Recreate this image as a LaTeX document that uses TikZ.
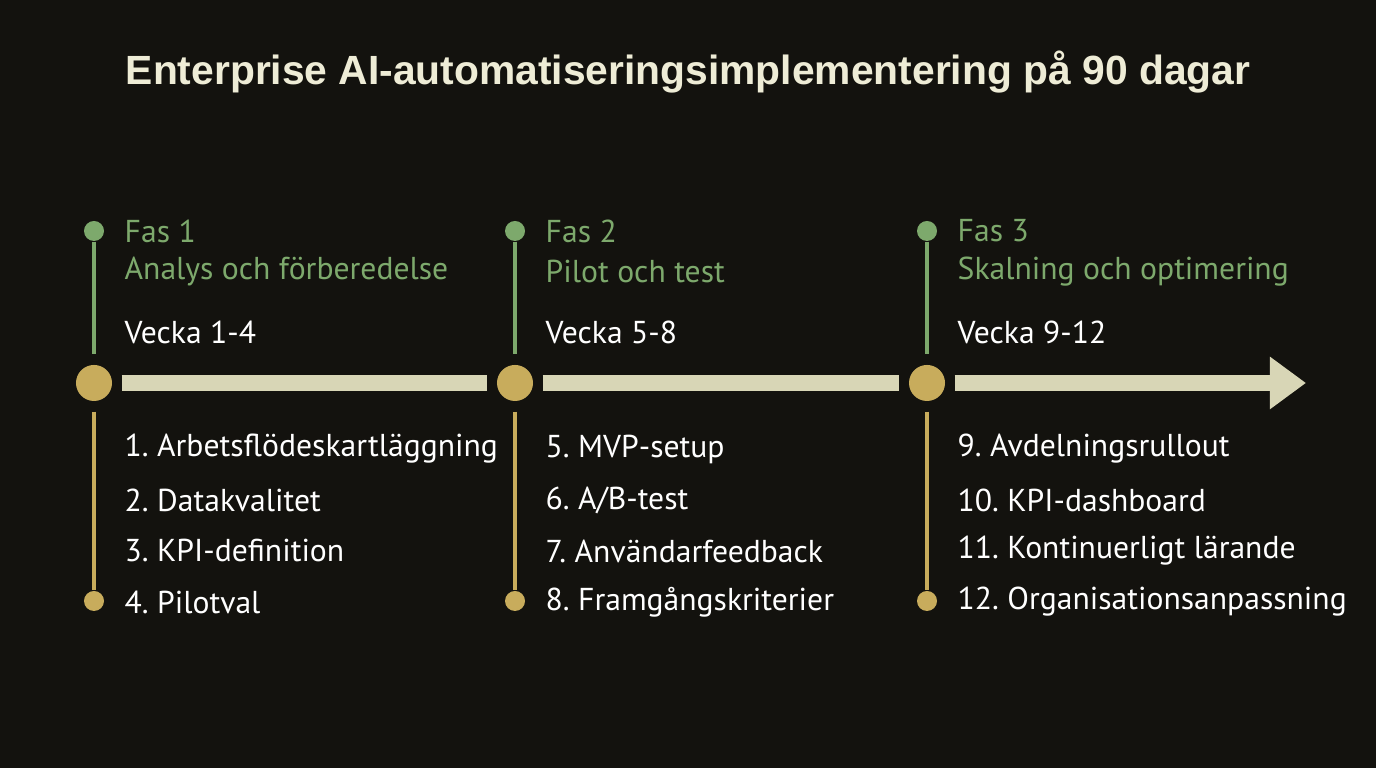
\documentclass[tikz,border=0pt]{standalone}
\usepackage{fontspec}
\setmainfont{Liberation Sans}
\newfontfamily\lblfont{PT Sans}
\usetikzlibrary{arrows.meta,positioning}
\definecolor{bgdark}{HTML}{13120E}
\definecolor{cream}{HTML}{EEECD6}
\definecolor{barcol}{HTML}{D8D6B6}
\definecolor{fasgreen}{HTML}{7DA96C}
\definecolor{fasgold}{HTML}{C8AC5C}
\tikzset{
  bigdot/.style={circle,fill=fasgold,minimum size=0.36cm,inner sep=0pt},
  smalldot/.style={circle,minimum size=0.2cm,inner sep=0pt},
  lbl/.style={anchor=west,inner sep=0pt,font=\lblfont\fontsize{9pt}{10pt}\selectfont},
  bar/.style={barcol,line width=0.16cm}
}
\begin{document}
\frenchspacing
\begin{tikzpicture}[x=0.01cm,y=0.01cm]
\fill[bgdark] (0,0) rectangle (1376,768);
\useasboundingbox (0,0) rectangle (1376,768);

% Title
\node[text=cream,font=\bfseries\fontsize{11.6pt}{14pt}\selectfont] (title) at (688,696)
  {Enterprise AI-automatiseringsimplementering på 90 dagar};

% Phases
\foreach \i/\x/\fas/\name/\wk in {1/94/Fas 1/Analys och förberedelse/Vecka 1-4,
                                   2/515/Fas 2/Pilot och test/Vecka 5-8,
                                   3/927/Fas 3/Skalning och optimering/Vecka 9-12}{
  \node[bigdot] (p\i) at (\x,385) {};
  \node[smalldot,fill=fasgreen] (t\i) at (\x,537) {};
  \node[smalldot,fill=fasgold] (b\i) at (\x,167) {};
  \draw[fasgreen,line width=0.035cm,shorten >=0.1cm] (t\i) -- (p\i.north);
  \draw[fasgold,line width=0.035cm,shorten <=0.1cm] (p\i.south) -- (b\i);
  \node[lbl,text=fasgreen] (f\i) at (\x+30,537) {\fas};
  \node[lbl,text=fasgreen] (n\i) at (\x+30,496) {\name};
  \node[lbl,text=white] (w\i) at (\x+30,436) {\wk};
}

% Bar
\coordinate (tip) at (1306,385);
\draw[bar,shorten <=0.09cm,shorten >=0.09cm] (p1) -- (p2);
\draw[bar,shorten <=0.09cm,shorten >=0.09cm] (p2) -- (p3);
\draw[bar,shorten <=0.09cm,-{Triangle[length=0.36cm,width=0.5cm]}] (p3.east) -- (tip);

% Tasks
\foreach \i/\x/\a/\b/\c/\d in {1/94/1. Arbetsflödeskartläggning/2. Datakvalitet/3. KPI-definition/4. Pilotval,
                               2/515/5. MVP-setup/{6. A/B-test}/7. Användarfeedback/8. Framgångskriterier,
                               3/927/9. Avdelningsrullout/10. KPI-dashboard/11. Kontinuerligt lärande/12. Organisationsanpassning}{
  \node[lbl,text=white] (s\i a) at (\x+30,319) {\a};
  \node[lbl,text=white] (s\i b) at (\x+30,268) {\b};
  \node[lbl,text=white] (s\i c) at (\x+30,217) {\c};
  \node[lbl,text=white] (s\i d) at (\x+30,166) {\d};
}
\end{tikzpicture}
\end{document}
